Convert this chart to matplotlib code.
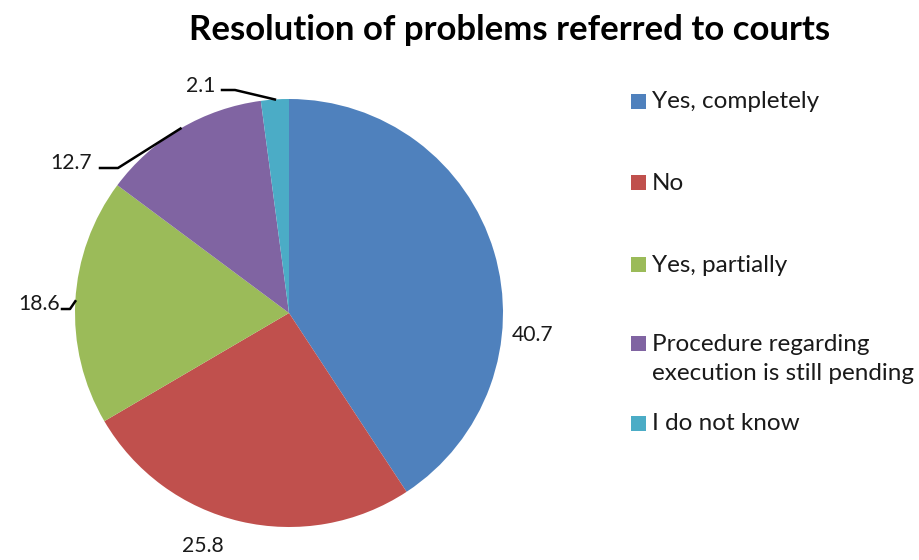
import numpy as np
import matplotlib.pyplot as plt
from matplotlib.patches import Rectangle

plt.rcParams['font.family'] = ['Lato', 'DejaVu Sans']

categories = ["Yes, completely", "No", "Yes, partially",
              "Procedure regarding\nexecution is still pending", "I do not know"]
values = [40.7, 25.8, 18.6, 12.7, 2.1]
value_labels = ["40.7", "25.8", "18.6", "12.7", "2.1"]
colors = ["#4F81BD", "#C0504D", "#9BBB59", "#8064A2", "#4BACC6"]

W, H = 919, 560
fig = plt.figure(figsize=(W / 100, H / 100), dpi=100)

# pie area: centre (289, 313) px, radius 214 px
cx, cy, R = 289, 313, 214
ax = fig.add_axes([(cx - R) / W, (H - cy - R) / H, 2 * R / W, 2 * R / H])
wedges, _ = ax.pie(values, colors=colors, startangle=90, counterclock=False,
                   radius=1, wedgeprops=dict(linewidth=0))
ax.set_xlim(-1, 1)
ax.set_ylim(-1, 1)
ax.set_aspect('auto')
ax.axis('off')


def px(x, y):
    return (x - cx) / R, (cy - y) / R


# label positions (px) and leader-line elbows
label_pos = [(512, 335, 'left'), (203, 546, 'center'), (60, 304, 'right'),
             (92, 163, 'right'), (215, 86, 'right')]
elbows = [None, None, [(70, 309), (62, 309)], [(118, 168), (100, 168)],
          [(235, 90), (222, 90)]]

for i, (w, lab) in enumerate(zip(wedges, value_labels)):
    x, y, ha = label_pos[i]
    tx, ty = px(x, y)
    ax.text(tx, ty, lab, ha=ha, va='center', fontsize=15.2, color='#1a1a1a',
            clip_on=False)
    if elbows[i]:
        ang = np.deg2rad((w.theta1 + w.theta2) / 2)
        xs = [np.cos(ang)] + [px(a, b)[0] for a, b in elbows[i]]
        ys = [np.sin(ang)] + [px(a, b)[1] for a, b in elbows[i]]
        ax.plot(xs, ys, color='black', lw=1.8, clip_on=False)

fig.text(510 / W, 1 - 30 / H, "Resolution of problems referred to courts",
         ha='center', va='center', fontsize=25, fontweight='bold', color='black')

# legend
leg_y = [102, 183, 265, 344, 424]
for lab, col, y in zip(categories, colors, leg_y):
    fig.patches.append(Rectangle((631 / W, 1 - (y + 7) / H), 15 / W, 15 / H,
                                 transform=fig.transFigure, facecolor=col,
                                 edgecolor='none'))
    if '\n' in lab:
        fig.text(652 / W, 1 - (y - 10) / H, lab, ha='left', va='top',
                 fontsize=17.5, color='#1a1a1a', linespacing=1.5)
    else:
        fig.text(652 / W, 1 - y / H, lab, ha='left', va='center',
                 fontsize=17.5, color='#1a1a1a')

fig.savefig('out.png', dpi=100, facecolor='white')
